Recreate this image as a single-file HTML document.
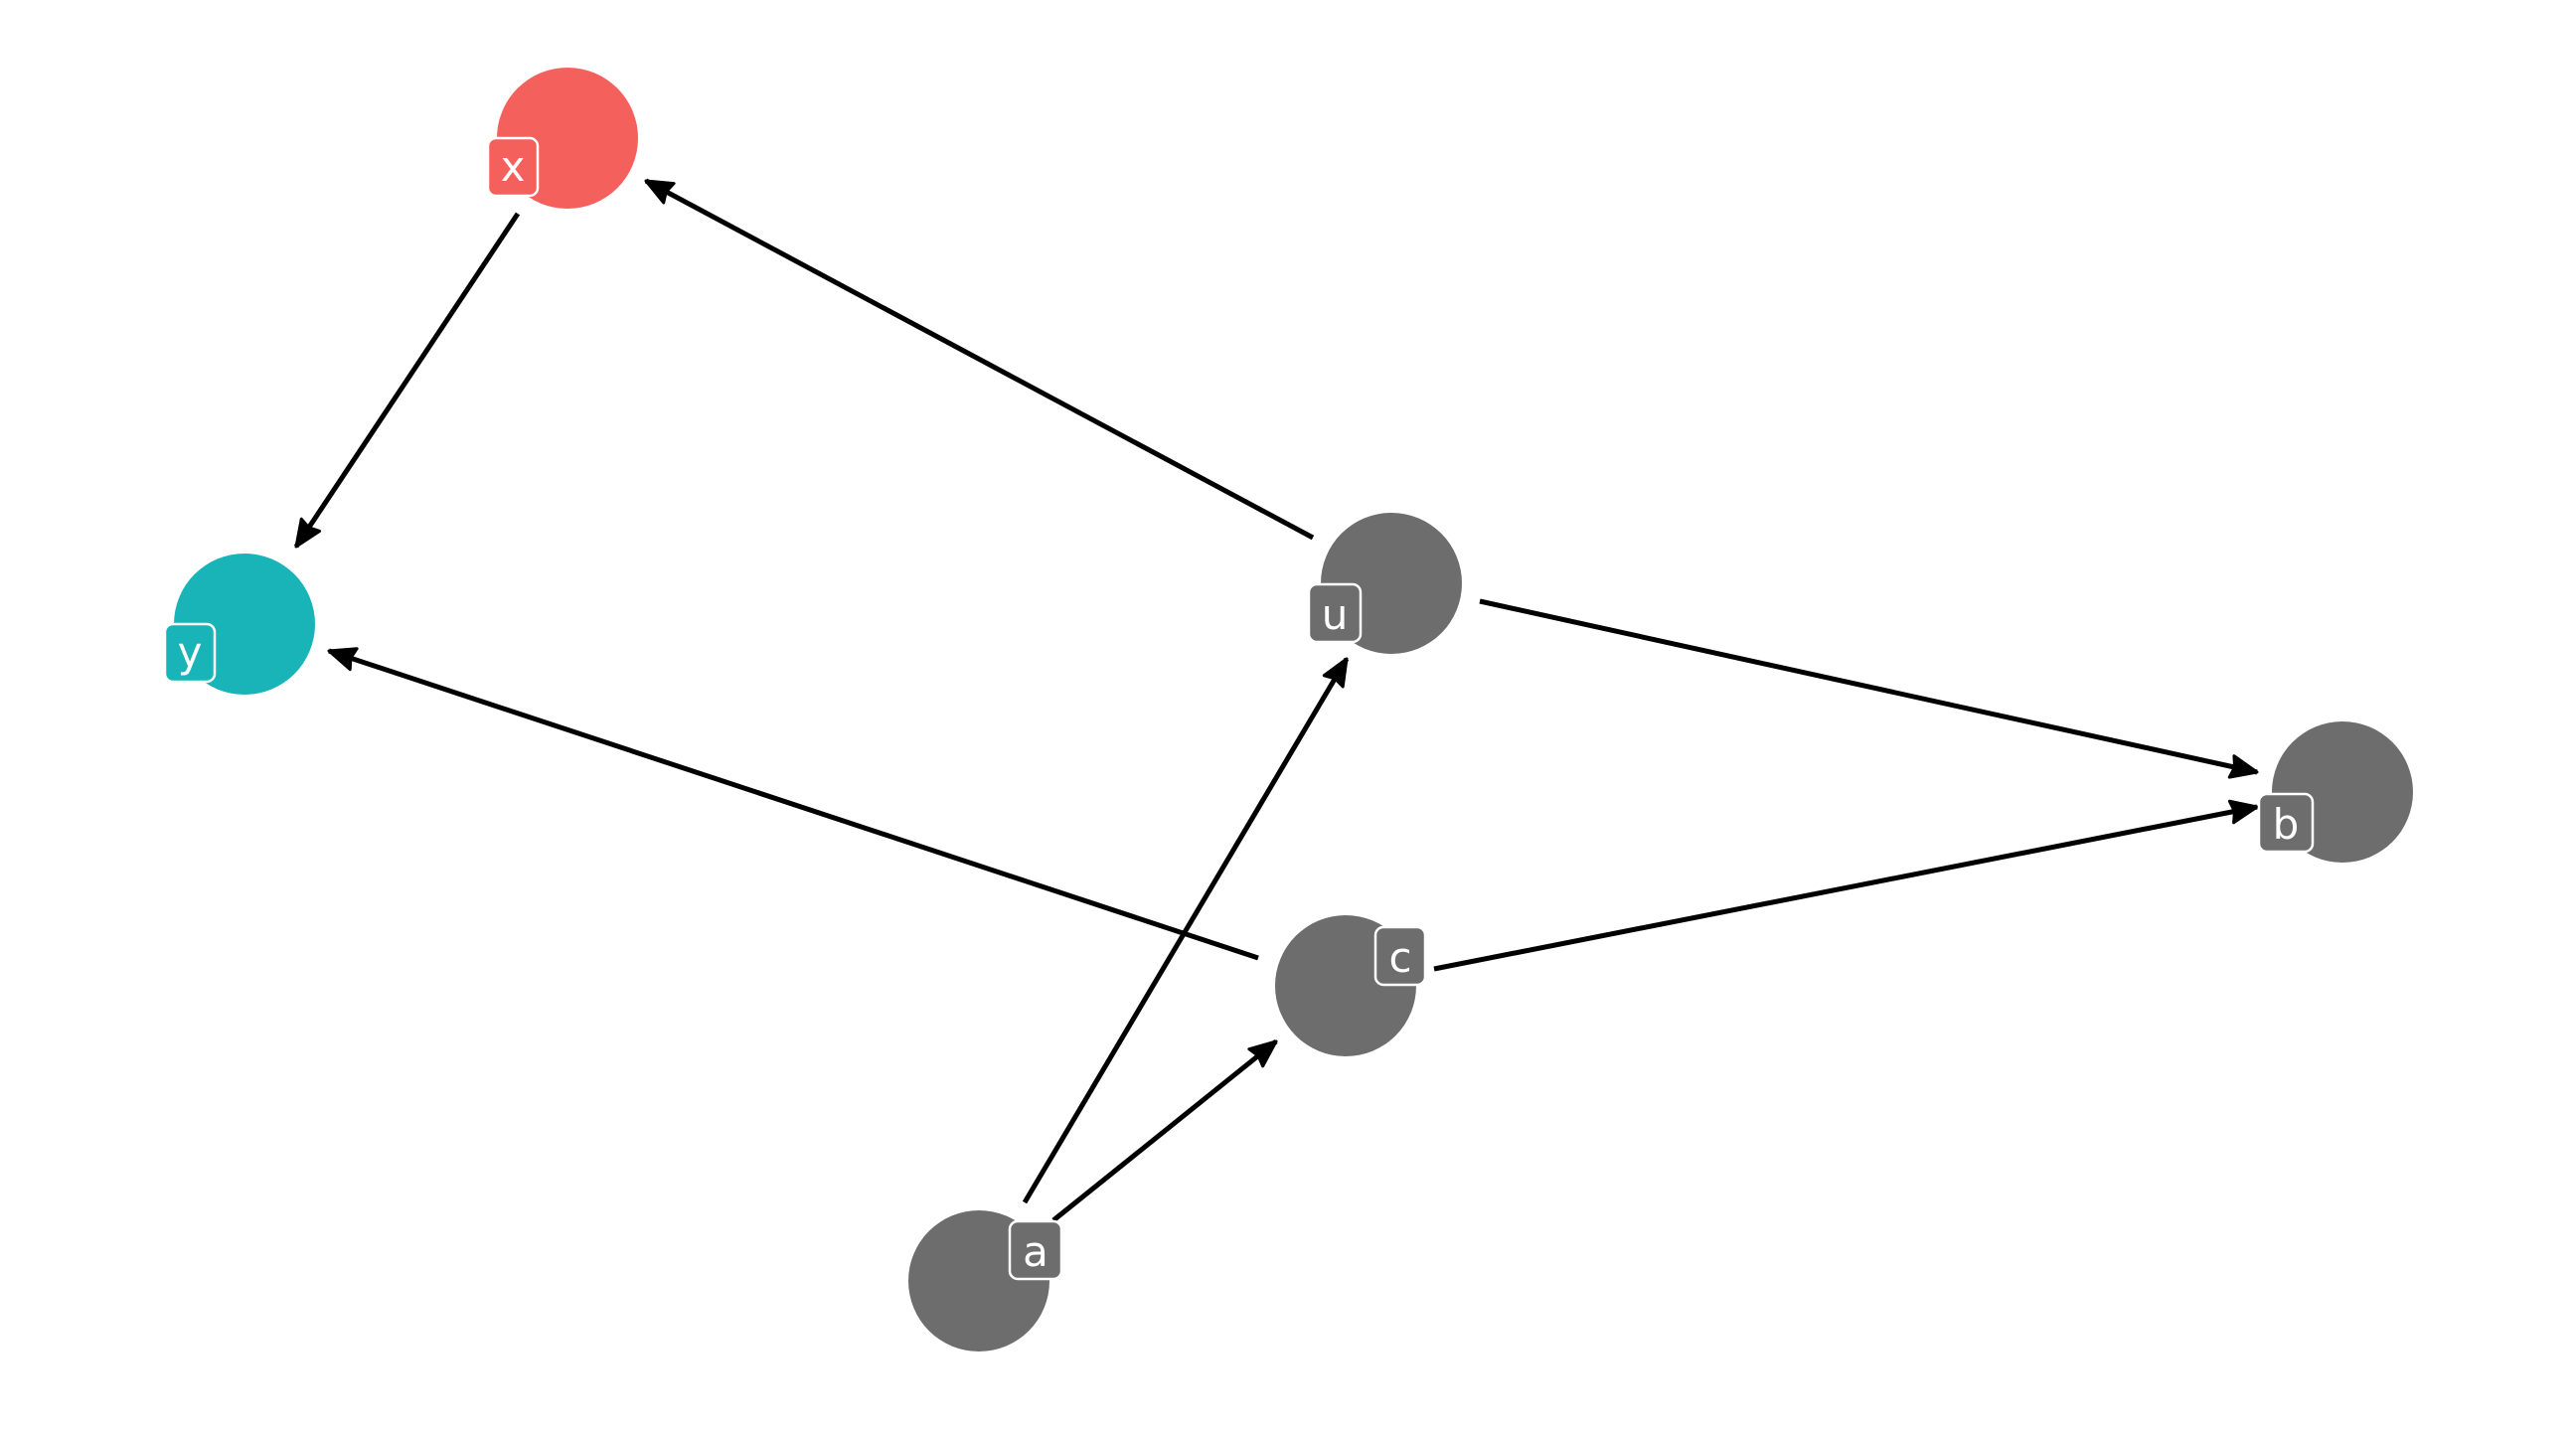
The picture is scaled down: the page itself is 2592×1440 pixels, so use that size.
<!DOCTYPE html>
<html><head><meta charset="utf-8"><style>
html,body{margin:0;padding:0;background:#fff;}
svg{display:block;}
text{font-family:"DejaVu Sans","Liberation Sans",sans-serif;}
</style></head><body>
<svg width="2592" height="1440" viewBox="0 0 2592 1440" xmlns="http://www.w3.org/2000/svg">
<g stroke="#000" stroke-width="5" fill="none">
<line x1="521" y1="215" x2="298" y2="550"/>
<line x1="1321" y1="541" x2="650" y2="182"/>
<line x1="1489" y1="605" x2="2271" y2="777"/>
<line x1="1443" y1="975" x2="2271" y2="812"/>
<line x1="1266" y1="964" x2="331" y2="655"/>
<line x1="1031" y1="1210" x2="1355" y2="663"/>
<line x1="1060" y1="1228" x2="1284" y2="1048"/>
</g>
<g fill="#000" stroke="#000" stroke-width="3" stroke-linejoin="round">
<path d="M0,0 L-26,-11 L-23,0 L-26,11 Z" transform="translate(298,550) rotate(123.65)"/>
<path d="M0,0 L-26,-11 L-23,0 L-26,11 Z" transform="translate(650,182) rotate(-151.85)"/>
<path d="M0,0 L-26,-11 L-23,0 L-26,11 Z" transform="translate(2271,777) rotate(12.4)"/>
<path d="M0,0 L-26,-11 L-23,0 L-26,11 Z" transform="translate(2271,812) rotate(-11.14)"/>
<path d="M0,0 L-26,-11 L-23,0 L-26,11 Z" transform="translate(331,655) rotate(198.29)"/>
<path d="M0,0 L-26,-11 L-23,0 L-26,11 Z" transform="translate(1355,663) rotate(-59.35)"/>
<path d="M0,0 L-26,-11 L-23,0 L-26,11 Z" transform="translate(1284,1048) rotate(-38.79)"/>
</g>
<g>
<circle cx="571" cy="139" r="71" fill="#F4615D"/>
<circle cx="246" cy="628" r="71" fill="#18B4B7"/>
<circle cx="1400" cy="587" r="71" fill="#6D6D6D"/>
<circle cx="2357" cy="797" r="71" fill="#6D6D6D"/>
<circle cx="1354" cy="992" r="71" fill="#6D6D6D"/>
<circle cx="985" cy="1289" r="71" fill="#6D6D6D"/>
</g>
<g stroke="#fff" stroke-width="2.5">
<rect x="491" y="139" width="50" height="58" rx="8" fill="#F4615D"/>
<rect x="166" y="628" width="50" height="58" rx="8" fill="#18B4B7"/>
<rect x="1317" y="588" width="52" height="58" rx="8" fill="#6D6D6D"/>
<rect x="2273" y="799" width="54" height="58" rx="8" fill="#6D6D6D"/>
<rect x="1384" y="933" width="50" height="58" rx="8" fill="#6D6D6D"/>
<rect x="1016" y="1229" width="52" height="58" rx="8" fill="#6D6D6D"/>
</g>
<g fill="#fff" font-size="42" text-anchor="middle">
<text x="516" y="182">x</text>
<text x="191" y="671">y</text>
<text x="1343" y="633">u</text>
<text x="2300" y="844">b</text>
<text x="1409" y="978">c</text>
<text x="1042" y="1274">a</text>
</g>
</svg>
</body></html>
